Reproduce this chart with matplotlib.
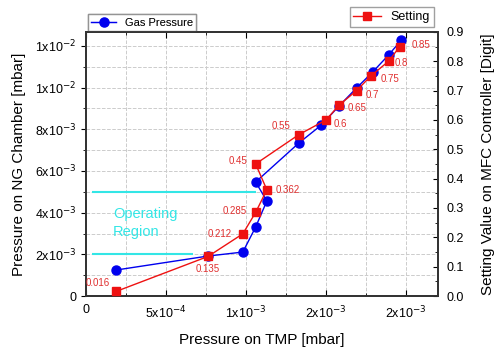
import matplotlib
matplotlib.use('Agg')
import matplotlib.pyplot as plt
from matplotlib.ticker import MultipleLocator, FixedLocator, FixedFormatter

plt.rcParams['font.family'] = ['Liberation Sans', 'DejaVu Sans']

# Data
tmp_pressure_gas = [0.19e-3, 0.763e-3, 0.98e-3, 1.06e-3, 1.13e-3, 1.06e-3, 1.33e-3,
                    1.47e-3, 1.58e-3, 1.69e-3, 1.79e-3, 1.89e-3, 1.97e-3]
ng_pressure = [1.25e-3, 1.92e-3, 2.11e-3, 3.31e-3, 4.56e-3, 5.47e-3, 7.34e-3,
               8.2e-3, 9.11e-3, 9.98e-3, 10.74e-3, 11.56e-3, 12.28e-3]

tmp_pressure_set = [0.19e-3, 0.763e-3, 0.98e-3, 1.06e-3, 1.13e-3, 1.06e-3, 1.33e-3,
                    1.5e-3, 1.58e-3, 1.69e-3, 1.78e-3, 1.89e-3, 1.96e-3]
setting = [0.016, 0.135, 0.212, 0.285, 0.362, 0.45, 0.55, 0.6, 0.65, 0.7, 0.75, 0.8, 0.85]
setting_labels = ['0.016', '0.135', '0.212', '0.285', '0.362', '0.45', '0.55',
                  '0.6', '0.65', '0.7', '0.75', '0.8', '0.85']
label_offsets = [(-13, 6), (0, -9), (-17, 0), (-15, 1), (15, 0), (-13, 2), (-13, 6),
                 (10, -3), (13, -2), (11, -3), (14, -2), (9, -1), (15, 1)]

x_ticks = [0, 5e-4, 1e-3, 1.5e-3, 2e-3]
x_tick_labels = ['0', '5x10$^{-4}$', '1x10$^{-3}$', '2x10$^{-3}$', '2x10$^{-3}$']
y_ticks = [0, 2e-3, 4e-3, 6e-3, 8e-3, 10e-3, 12e-3]
y_tick_labels = ['0', '2x10$^{-3}$', '4x10$^{-3}$', '6x10$^{-3}$', '8x10$^{-3}$',
                 '1x10$^{-2}$', '1x10$^{-2}$']

# operating region bounds
op_low, op_high = 2e-3, 5e-3

fig = plt.figure(figsize=(5.02, 3.58), dpi=100)
ax = fig.add_axes([0.171, 0.173, 0.702, 0.738])
ax2 = ax.twinx()

ax.set_xlim(0, 2.2e-3)
ax.set_ylim(0, 12.67e-3)
ax2.set_ylim(0, 0.9)

ax.xaxis.set_major_locator(FixedLocator(x_ticks))
ax.xaxis.set_major_formatter(FixedFormatter(x_tick_labels))
ax.xaxis.set_minor_locator(MultipleLocator(2.5e-4))
ax.yaxis.set_major_locator(FixedLocator(y_ticks))
ax.yaxis.set_major_formatter(FixedFormatter(y_tick_labels))
ax.yaxis.set_minor_locator(MultipleLocator(1e-3))
ax2.yaxis.set_major_locator(MultipleLocator(0.1))
ax2.yaxis.set_major_formatter(matplotlib.ticker.FormatStrFormatter('%.1f'))
ax2.yaxis.set_minor_locator(MultipleLocator(0.05))

ax.grid(which='both', color='#cccccc', linestyle='--', linewidth=0.7)
ax.set_axisbelow(True)

for a in (ax, ax2):
    for s in a.spines.values():
        s.set_linewidth(1.3)
        s.set_color('#333333')

ax.tick_params(axis='x', which='both', direction='in', top=True, labelsize=9, pad=6)
ax.tick_params(axis='x', which='major', length=4)
ax.tick_params(axis='x', which='minor', length=2)
ax.tick_params(axis='y', which='both', direction='out', labelsize=9)
ax.tick_params(axis='y', which='minor', length=2)
ax2.tick_params(axis='y', which='both', direction='in', labelsize=9, pad=6)
ax2.tick_params(axis='y', which='minor', length=2)

cyan = '#33e6e6'
ax.hlines(op_high, 0.04e-3, 1.06e-3, color=cyan, linewidth=1.5, zorder=2)
ax.hlines(op_low, 0.04e-3, 0.67e-3, color=cyan, linewidth=1.5, zorder=2)
ax.text(0.17e-3, 3.5e-3, 'Operating\nRegion', color=cyan, fontsize=10.5,
        ha='left', va='center', linespacing=1.3)

l1, = ax.plot(tmp_pressure_gas, ng_pressure, '-o', color='#0000ee', markersize=6.5,
              linewidth=1.0, label='Gas Pressure', zorder=3)
l2, = ax2.plot(tmp_pressure_set, setting, '-s', color='#ee1111', markersize=6,
               linewidth=1.0, label='Setting', zorder=4)

for xv, yv, lab, off in zip(tmp_pressure_set, setting, setting_labels, label_offsets):
    ax2.annotate(lab, (xv, yv), xytext=off, textcoords='offset points',
                 color='#e03030', fontsize=7, ha='center', va='center')

ax.set_xlabel('Pressure on TMP [mbar]', fontsize=11, labelpad=9)
ax.set_ylabel('Pressure on NG Chamber [mbar]', fontsize=11, labelpad=6)
ax2.set_ylabel('Setting Value on MFC Controller [Digit]', fontsize=11, labelpad=12)

leg1 = ax.legend(handles=[l1], loc='lower left', bbox_to_anchor=(0.0, 0.995),
                 fontsize=8, fancybox=False, edgecolor='#888888', borderpad=0.3,
                 handlelength=2.2, borderaxespad=0.2)
ax.add_artist(leg1)
leg2 = ax2.legend(handles=[l2], loc='lower right', bbox_to_anchor=(0.995, 1.01),
                  fontsize=9, fancybox=False, edgecolor='#888888', borderpad=0.3,
                  handlelength=2.2, borderaxespad=0.2)

fig.savefig('out.png', dpi=100)
